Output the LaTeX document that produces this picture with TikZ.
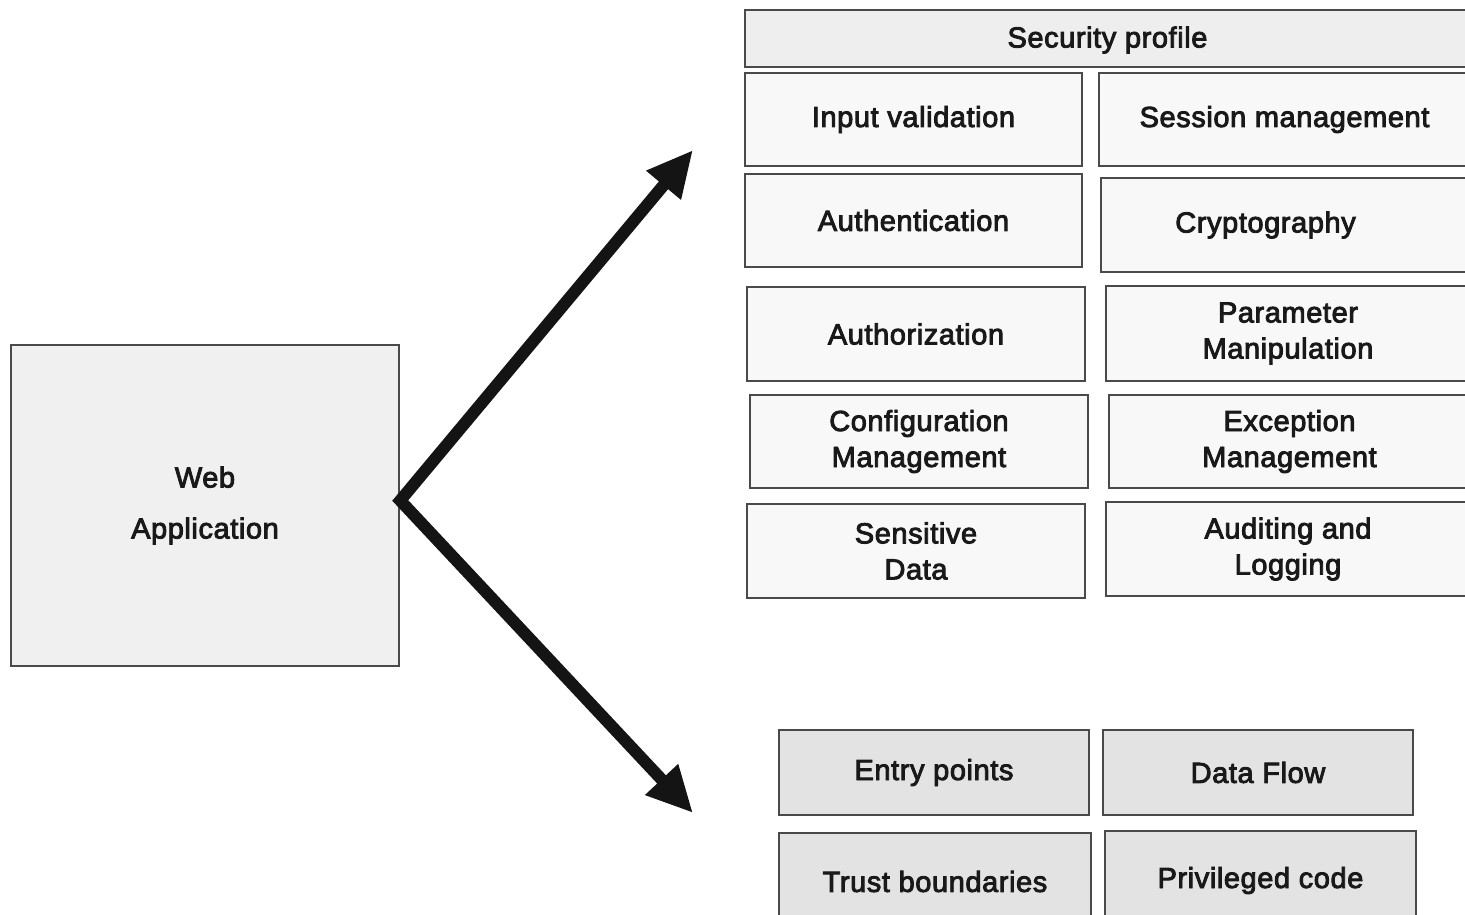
\documentclass[tikz,border=0pt]{standalone}
\usepackage{fontspec}
\setmainfont{Liberation Sans}[FakeBold=3, LetterSpace=2]
\usetikzlibrary{arrows.meta}
\definecolor{edge}{HTML}{4A4A4A}
\definecolor{headfill}{HTML}{EEEEEE}
\definecolor{cellfill}{HTML}{F8F8F8}
\definecolor{lowfill}{HTML}{E3E3E3}
\definecolor{appfill}{HTML}{F0F0F0}
\tikzset{
  cell/.style={draw=edge, line width=2.5pt, fill=cellfill, align=center,
    inner sep=0pt, font=\fontsize{29}{36}\selectfont, text=black!90},
  headcell/.style={cell, fill=headfill},
  lowcell/.style={cell, fill=lowfill},
  appcell/.style={cell, fill=appfill},
  bigarrow/.style={line width=12pt, draw=black!92, line join=miter,
    {Triangle[length=46pt,width=42pt]}-{Triangle[length=46pt,width=42pt]}}
}
\begin{document}
\begin{tikzpicture}[x=1pt,y=-1pt]
\useasboundingbox (0,0) rectangle (1465,915);
\clip (0,0) rectangle (1465,915);
\fill[white] (0,0) rectangle (1465,915);

\node[headcell, minimum width=725pt, minimum height=57pt, text depth=3pt] (sp) at (1107.5,38.5) {Security profile};
\node[cell, minimum width=337pt, minimum height=93pt] (iv) at (913.5,119.5) {Input validation};
\node[cell, minimum width=371pt, minimum height=93pt] (sm) at (1284.5,119.5) {Session management};
\node[cell, minimum width=337pt, minimum height=93pt] (au) at (913.5,220.5) {Authentication};
\node[cell, minimum width=369pt, minimum height=94pt] (cr) at (1285.5,225) {\hspace*{-40pt}Cryptography};
\node[cell, minimum width=338pt, minimum height=94pt] (az) at (916,334) {Authorization};
\node[cell, minimum width=364pt, minimum height=95pt] (pm) at (1288,333.5) {Parameter\\Manipulation};
\node[cell, minimum width=338pt, minimum height=93pt] (cm) at (919,441.5) {Configuration\\Management};
\node[cell, minimum width=361pt, minimum height=93pt] (em) at (1289.5,441.5) {Exception\\Management};
\node[cell, minimum width=338pt, minimum height=94pt] (sd) at (916,551) {Sensitive\\Data};
\node[cell, minimum width=364pt, minimum height=94pt] (al) at (1288,549) {Auditing and\\Logging};

\node[lowcell, minimum width=310pt, minimum height=85pt] (ep) at (934,772.5) {Entry points};
\node[lowcell, minimum width=310pt, minimum height=85pt] (df) at (1258,772.5) {Data Flow};
\node[lowcell, minimum width=312pt, minimum height=97pt] (tb) at (935,881.5) {Trust boundaries};
\node[lowcell, minimum width=311pt, minimum height=99pt] (pc) at (1260.5,880.5) {Privileged code};

\node[appcell, minimum width=388pt, minimum height=321pt] (wa) at (205,505.5) {Web\\[15pt]Application};

\coordinate (up) at (693,150);
\coordinate (down) at (693,813);
\coordinate (src) at ([yshift=5pt]wa.east);
\draw[bigarrow] (up) -- (src) -- (down);
\end{tikzpicture}
\end{document}
